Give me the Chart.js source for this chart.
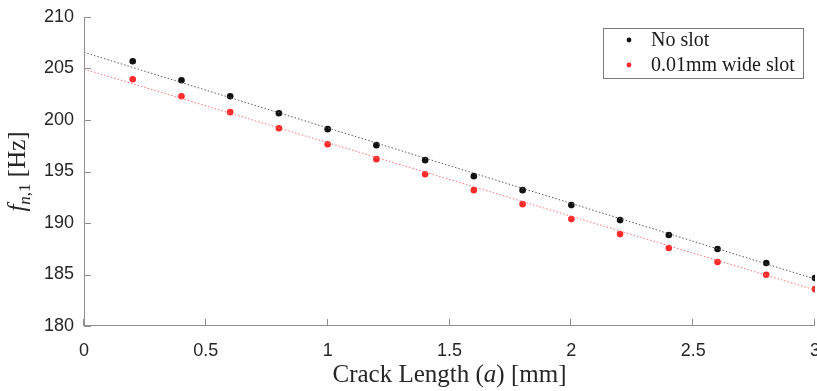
<!DOCTYPE html>
<html>
<head>
<meta charset="utf-8">
<script src="https://cdn.jsdelivr.net/npm/chart.js@4.4.1/dist/chart.umd.min.js"></script>
<style>
  html, body { margin: 0; padding: 0; background: #fff; }
</style>
</head>
<body>
<canvas id="graficoFreq" width="817" height="391"></canvas>
<script>
// comprimentos de trinca [mm] e frequencias [Hz]
const crackLength = [0.2, 0.4, 0.6, 0.8, 1.0, 1.2, 1.4, 1.6, 1.8, 2.0, 2.2, 2.4, 2.6, 2.8, 3.0];
const noSlot = [205.70, 203.86, 202.31, 200.66, 199.11, 197.56, 196.10, 194.55, 193.19, 191.74, 190.28, 188.83, 187.47, 186.11, 184.65];
const wideSlot = [203.96, 202.31, 200.76, 199.20, 197.65, 196.20, 194.74, 193.19, 191.83, 190.38, 188.92, 187.57, 186.21, 184.98, 183.58];

// retas de ajuste (extremos)
const fitX = [0, 3];
const noSlotFit = [206.57, 184.56];
const wideSlotFit = [204.95, 183.50];

const xTicks = [0, 0.5, 1, 1.5, 2, 2.5, 3];
const yTicks = [180, 185, 190, 195, 200, 205, 210];

const labels = ["No slot", "0.01mm wide slot"];
const corPreto = "#111111";
const corVermelho = "#ff2b2b";

function pares(xs, ys) {
    return xs.map((x, i) => ({ x: x, y: ys[i] }));
}

function escreveMisto(ctx, partes, cx, y) {
    let total = 0;
    partes.forEach(p => { ctx.font = p.f; p.w = ctx.measureText(p.t).width; total += p.w; });
    let x = cx - total / 2;
    partes.forEach(p => {
        ctx.font = p.f;
        ctx.fillText(p.t, x, y + (p.dy || 0));
        x += p.w;
    });
}

const eixoCor = "#8f8f8f";

const eixosPlugin = {
    id: "eixos",
    afterDatasetsDraw(chart) {
        const ctx = chart.ctx;
        const area = chart.chartArea;
        const sx = chart.scales.x;
        const sy = chart.scales.y;
        ctx.save();
        ctx.strokeStyle = eixoCor;
        ctx.lineWidth = 1;
        ctx.beginPath();
        ctx.moveTo(area.left + 0.5, area.top);
        ctx.lineTo(area.left + 0.5, area.bottom);
        ctx.moveTo(area.left, area.bottom - 0.5);
        ctx.lineTo(area.right, area.bottom - 0.5);
        yTicks.forEach(v => {
            const p = Math.round(sy.getPixelForValue(v)) + 0.5;
            ctx.moveTo(area.left, p);
            ctx.lineTo(area.left + 7, p);
        });
        xTicks.forEach(v => {
            const p = Math.round(sx.getPixelForValue(v)) - 0.5;
            ctx.moveTo(p, area.bottom);
            ctx.lineTo(p, area.bottom - 7);
        });
        ctx.stroke();
        ctx.restore();
    },
    afterDraw(chart) {
        const ctx = chart.ctx;
        const area = chart.chartArea;
        ctx.save();
        ctx.fillStyle = "#262626";
        ctx.textBaseline = "alphabetic";

        // titulo do eixo x: Crack Length (a) [mm]
        escreveMisto(ctx, [
            { t: "Crack Length (", f: "25px 'Liberation Serif'" },
            { t: "a", f: "italic 25px 'Liberation Serif'" },
            { t: ") [mm]", f: "25px 'Liberation Serif'" }
        ], (area.left + area.right) / 2, 382);

        // titulo do eixo y: f_{n,1} [Hz]
        ctx.translate(17, (area.top + area.bottom) / 2);
        ctx.rotate(-Math.PI / 2);
        escreveMisto(ctx, [
            { t: "f", f: "italic 25px 'Liberation Serif'" },
            { t: "n", f: "italic 17px 'Liberation Serif'", dy: 5 },
            { t: ",1", f: "17px 'Liberation Serif'", dy: 5 },
            { t: " [Hz]", f: "25px 'Liberation Serif'" }
        ], 0, 8);
        ctx.restore();

        // legenda com caixa
        const lx = 603, ly = 28, lw = 200, lh = 50;
        ctx.save();
        ctx.fillStyle = "#ffffff";
        ctx.fillRect(lx, ly, lw, lh);
        ctx.strokeStyle = "#7a7a7a";
        ctx.lineWidth = 1;
        ctx.strokeRect(lx + 0.5, ly + 0.5, lw, lh);
        ctx.font = "20px 'Liberation Serif'";
        ctx.textBaseline = "middle";
        chart.data.datasets.filter(d => !d.ajuste).forEach((d, i) => {
            const yy = ly + 12 + i * 25;
            ctx.fillStyle = d.backgroundColor;
            ctx.beginPath();
            ctx.arc(lx + 26, yy, 2.4, 0, Math.PI * 2);
            ctx.fill();
            ctx.fillStyle = "#1a1a1a";
            ctx.fillText(d.label, lx + 48, yy + 1);
        });
        ctx.restore();
    }
};

new Chart(document.querySelector("#graficoFreq"), {
    type: "scatter",
    data: {
        datasets: [
            {
                label: "ajuste no slot",
                ajuste: true,
                data: pares(fitX, noSlotFit),
                showLine: true,
                pointRadius: 0,
                borderColor: "#5a5a5a",
                borderWidth: 1,
                borderDash: [1.5, 2]
            },
            {
                label: "ajuste slot",
                ajuste: true,
                data: pares(fitX, wideSlotFit),
                showLine: true,
                pointRadius: 0,
                borderColor: "#ff7070",
                borderWidth: 1,
                borderDash: [1.5, 2]
            },
            {
                label: labels[0],
                data: pares(crackLength, noSlot),
                pointStyle: "circle",
                pointRadius: 3.3,
                pointBorderWidth: 0,
                backgroundColor: corPreto,
                borderColor: corPreto
            },
            {
                label: labels[1],
                data: pares(crackLength, wideSlot),
                pointStyle: "circle",
                pointRadius: 3.3,
                pointBorderWidth: 0,
                backgroundColor: corVermelho,
                borderColor: corVermelho
            }
        ]
    },
    options: {
        responsive: false,
        animation: false,
        layout: { autoPadding: false, padding: { top: 17, right: 2, left: 0, bottom: 0 } },
        plugins: {
            legend: { display: false },
            tooltip: { enabled: false }
        },
        scales: {
            x: {
                type: "linear",
                min: 0,
                max: 3,
                afterFit: s => { s.height = 65; s.paddingLeft = 0; s.paddingRight = 0; },
                afterBuildTicks: s => { s.ticks = xTicks.map(v => ({ value: v })); },
                grid: { display: false, drawTicks: false },
                border: { display: false },
                ticks: {
                    padding: 14,
                    color: "#262626",
                    font: { family: "'Liberation Sans'", size: 18 },
                    callback: v => String(v)
                }
            },
            y: {
                min: 180,
                max: 210,
                afterFit: s => { s.width = 84; s.paddingTop = 0; s.paddingBottom = 0; },
                afterBuildTicks: s => { s.ticks = yTicks.map(v => ({ value: v })); },
                grid: { display: false, drawTicks: false },
                border: { display: false },
                ticks: {
                    padding: 10,
                    color: "#262626",
                    font: { family: "'Liberation Sans'", size: 18 },
                    callback: v => String(v)
                }
            }
        }
    },
    plugins: [eixosPlugin]
});
</script>
</body>
</html>
